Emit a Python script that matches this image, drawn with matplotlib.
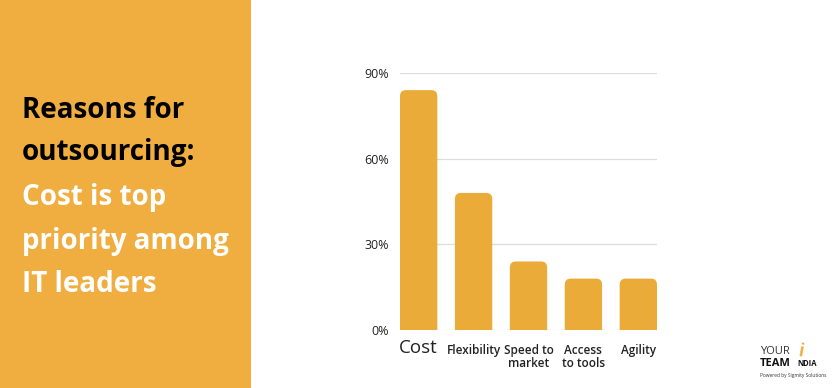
import matplotlib.pyplot as plt
from matplotlib.patches import Rectangle, FancyBboxPatch

# data
categories = ['Cost', 'Flexibility', 'Speed to\nmarket', 'Access\nto tools', 'Agility']
values = [84, 48, 24, 18, 18]
yticks = [0, 30, 60, 90]
ytick_labels = ['0%', '30%', '60%', '90%']

ORANGE = '#F0AD40'
BAR = '#EBAB38'
FONT = ['Open Sans', 'DejaVu Sans']

plt.rcParams['font.family'] = FONT

fig = plt.figure(figsize=(8.4, 3.88), dpi=100)
fig.patch.set_facecolor('white')

# 左侧橙色面板
fig.patches.append(Rectangle((0, 0), 251 / 840, 1, transform=fig.transFigure,
                             facecolor=ORANGE, edgecolor='none', zorder=0))

title_lines = [('Reasons for', 'black'), ('outsourcing:', 'black'),
               ('Cost is top', 'white'), ('priority among', 'white'),
               ('IT leaders', 'white')]
y_px = [110, 153, 197, 242, 284]
for (txt, col), y in zip(title_lines, y_px):
    fig.text(22 / 840, 1 - y / 388, txt, color=col, fontsize=20, fontweight='bold',
             ha='left', va='center')

# 柱状图
ax = fig.add_axes([400 / 840, 58 / 388, 257 / 840, 257 / 388])
x = range(len(categories))
bars = ax.bar(x, values, width=0.68, color=BAR, zorder=2)
ax.set_xlim(-0.34, len(categories) - 1 + 0.34)
ax.set_ylim(0, 90)

# 圆角柱子：用原始柱子的几何替换
px_per_x = 257 / (len(categories) - 1 + 0.68)
px_per_y = 257 / 90
r = 0.11
for b in bars:
    bx, by = b.get_x(), b.get_y()
    bw, bh = b.get_width(), b.get_height()
    b.set_visible(False)
    ax.add_patch(FancyBboxPatch((bx, by - 4), bw, bh + 4,
                                boxstyle=f'round,pad=0,rounding_size={r}',
                                mutation_aspect=px_per_x / px_per_y,
                                facecolor=BAR, edgecolor='none', zorder=2, clip_on=True))

ax.set_yticks(yticks)
ax.set_yticklabels(ytick_labels, fontsize=9, color='#222222', fontweight='medium')
ax.yaxis.grid(True, color='#DDDDDD', linewidth=0.9, zorder=0)
ax.set_axisbelow(True)
for s in ax.spines.values():
    s.set_visible(False)
ax.tick_params(axis='y', length=0, pad=8)
ax.tick_params(axis='x', length=0, pad=10)
ax.set_xticks(list(x))
ax.set_xticklabels(categories, fontsize=8.5, color='#222222', linespacing=1.0,
                   fontweight='semibold')
ax.get_xticklabels()[0].set_fontsize(13.5)
ax.get_xticklabels()[0].set_fontweight('normal')
ax.get_xticklabels()[0].set_y(0.02)

# logo
fig.text(760 / 840, 1 - 352 / 388, 'YOUR', fontsize=8, color='#333333', ha='left', va='center')
fig.text(760 / 840, 1 - 364 / 388, 'TEAM', fontsize=8, color='#111111', fontweight='bold',
         ha='left', va='center')
fig.text(797 / 840, 1 - 364 / 388, 'NDIA', fontsize=5.5, color='#111111', fontweight='bold',
         ha='left', va='center')
fig.text(797 / 840, 1 - 352 / 388, 'i', fontsize=12, color=ORANGE, fontweight='bold',
         ha='left', va='center', rotation=-10)
fig.text(760 / 840, 1 - 375 / 388, 'Powered by Sigmity Solutions', fontsize=3.5,
         color='#333333', ha='left', va='center')

fig.savefig('out.png', dpi=100, facecolor='white')
